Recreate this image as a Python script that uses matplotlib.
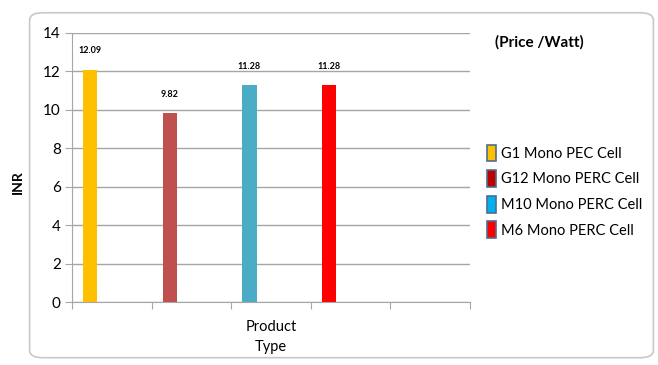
import matplotlib.pyplot as plt
from matplotlib.patches import Patch, FancyBboxPatch

plt.rcParams['font.family'] = ['Lato', 'DejaVu Sans']

products = ['G1 Mono PEC Cell', 'G12 Mono PERC Cell', 'M10 Mono PERC Cell', 'M6 Mono PERC Cell']
prices = [12.09, 9.82, 11.28, 11.28]
bar_colors = ['#FFC000', '#C0504D', '#4BACC6', '#FF0000']
legend_colors = ['#FFC000', '#C00000', '#00B0F0', '#FF0000']
yticks = [0, 2, 4, 6, 8, 10, 12, 14]

fig = plt.figure(figsize=(6.58, 3.65), dpi=100)

# outer chart frame, kept behind the axes
frame = FancyBboxPatch((0.045, 0.02), 0.948, 0.945, boxstyle='round,pad=0,rounding_size=0.02',
                       transform=fig.transFigure, facecolor='white', edgecolor='#C8C8C8', lw=1.2,
                       zorder=-10)
fig.patches.append(frame)

ax = fig.add_axes([0.1094, 0.1726, 0.6048, 0.737])
ax.set_facecolor('none')
ax.set_zorder(5)

positions = [i + 0.23 for i in range(len(products))]
bars = ax.bar(positions, prices, width=0.18, color=bar_colors)
for x, v in zip(positions, prices):
    ax.text(x, v + 0.75, f'{v:.2f}', ha='center', va='bottom', fontsize=6.5, fontweight='bold')

ax.set_xlim(0, 5)
ax.set_ylim(0, 14)
ax.set_yticks(yticks)
ax.set_xticks(range(6))
ax.set_xticklabels([])
ax.yaxis.grid(True, color='#A6A6A6', lw=1)
ax.set_axisbelow(True)
for s in ['top', 'right']:
    ax.spines[s].set_visible(False)
ax.spines['left'].set_color('#A6A6A6')
ax.spines['bottom'].set_color('#A6A6A6')
ax.tick_params(axis='y', length=5, color='#A6A6A6', labelsize=11, pad=3)
ax.tick_params(axis='x', length=5, color='#A6A6A6', direction='out')

ax.text(2.5, -0.95, 'Product\nType', ha='center', va='top', fontsize=10.5, linespacing=1.5)
fig.text(0.027, 0.5, 'INR', rotation=90, ha='center', va='center', fontsize=10, fontweight='bold')
fig.text(0.752, 0.885, '(Price /Watt)', ha='left', va='center', fontsize=11, fontweight='bold')

handles = [Patch(facecolor=c, edgecolor='#4F6D8F', lw=1.2) for c in legend_colors]
leg = fig.legend(handles, products, loc='upper left', bbox_to_anchor=(0.72, 0.64), frameon=False,
                 fontsize=10.5, handlelength=0.6, handleheight=1.4, handletextpad=0.4,
                 labelspacing=0.6)
leg.set_zorder(6)

fig.savefig('out.png', dpi=100)
